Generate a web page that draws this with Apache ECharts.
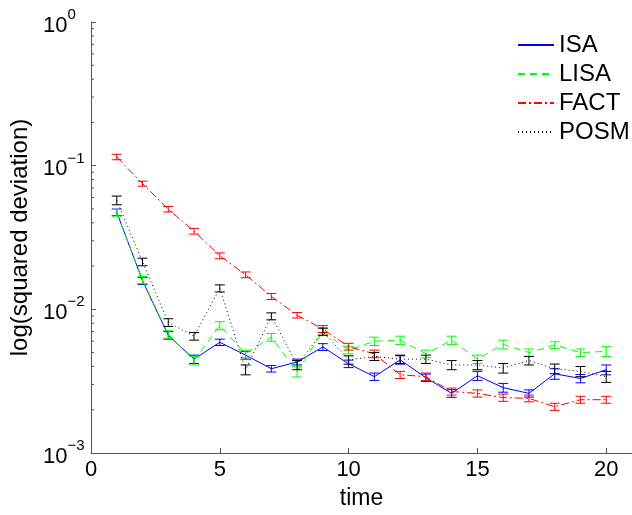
<!DOCTYPE html>
<html><head><meta charset="utf-8">
<script src="https://cdn.jsdelivr.net/npm/echarts@6/dist/echarts.min.js"></script>
<style>html,body{margin:0;padding:0;background:#fff}#c{width:632px;height:515px}</style>
</head><body><div id="c"></div>
<script>
var times = [1,2,3,4,5,6,7,8,9,10,11,12,13,14,15,16,17,18,19,20];
var isa  = [0.0474,0.0158,0.0066,0.0045,0.0059,0.0048,0.00386,0.0043,0.00547,0.00418,0.0034,0.00445,0.00334,0.0026,0.00345,0.00285,0.0026,0.00356,0.0033,0.0038];
var isaErr = [0.0025,0.0009,0.0004,0.0003,0.0003,0.0003,0.0002,0.0002,0.0003,0.00025,0.0002,0.0003,0.0002,0.00016,0.00025,0.0002,0.00015,0.0003,0.00022,0.0003];
var lisa = [0.047,0.016,0.0067,0.0044,0.0077,0.0049,0.0064,0.00368,0.007,0.0052,0.006,0.0061,0.0049,0.0061,0.0045,0.0057,0.005,0.00565,0.005,0.0051];
var lisaErr = [0.0025,0.0009,0.0004,0.0003,0.0005,0.0003,0.0004,0.0003,0.0004,0.0003,0.0004,0.0004,0.0003,0.0004,0.0003,0.0004,0.0003,0.0003,0.0003,0.0004];
var fact = [0.115,0.075,0.0498,0.035,0.0236,0.0174,0.0123,0.0091,0.0073,0.0055,0.0049,0.0035,0.0034,0.00268,0.0026,0.00243,0.0024,0.0021,0.00235,0.00235];
var factErr = [0.005,0.003,0.0022,0.0016,0.0011,0.0008,0.0006,0.0004,0.0004,0.0003,0.0003,0.0002,0.0002,0.00015,0.00015,0.00014,0.00013,0.00012,0.00013,0.00013];
var posm = [0.0574,0.0214,0.0081,0.0065,0.014,0.0038,0.00895,0.0041,0.007,0.00445,0.0047,0.0045,0.0045,0.0041,0.0041,0.0039,0.0044,0.00386,0.0037,0.0034];
var posmErr = [0.004,0.0013,0.0005,0.0004,0.0008,0.0003,0.0005,0.0003,0.0004,0.0003,0.0003,0.0003,0.0003,0.0003,0.0003,0.0003,0.0003,0.0003,0.0003,0.0003];
var seriesNames = ['ISA','LISA','FACT','POSM'];
var xTicks = [0,5,10,15,20];
var minorTickValues = [0.002,0.003,0.004,0.005,0.006,0.007,0.008,0.009,0.02,0.03,0.04,0.05,0.06,0.07,0.08,0.09,0.2,0.3,0.4,0.5,0.6,0.7,0.8,0.9];

var FONT = 'Liberation Sans, Arial, sans-serif';
var colors = ['#0000ff','#00ff00','#ff0000','#000000'];
var styles = ['solid',[7,5],[8,3,2,3],[1,3]];
var vals = [isa,lisa,fact,posm];
var errs = [isaErr,lisaErr,factErr,posmErr];

function pairs(a){ return times.map(function(t,i){return [t,a[i]];}); }
function errData(a,e){ return times.map(function(t,i){return [t,a[i]-e[i],a[i]+e[i]];}); }

var series = [];
vals.forEach(function(v,k){
  series.push({name:seriesNames[k],type:'line',data:pairs(v),symbol:'none',
    lineStyle:{color:colors[k],width:1,type:styles[k]},itemStyle:{color:colors[k]},z:2+k,animation:false});
});
vals.forEach(function(v,k){
  series.push({type:'custom',data:errData(v,errs[k]),z:2+k,animation:false,silent:true,
    renderItem:function(params,api){
      var lo=api.coord([api.value(0),api.value(1)]);
      var hi=api.coord([api.value(0),api.value(2)]);
      var w=5, c=colors[k];
      var st={stroke:c,lineWidth:1};
      return {type:'group',children:[
        {type:'line',shape:{x1:lo[0],y1:lo[1],x2:hi[0],y2:hi[1]},style:st},
        {type:'line',shape:{x1:lo[0]-w,y1:lo[1],x2:lo[0]+w,y2:lo[1]},style:st},
        {type:'line',shape:{x1:hi[0]-w,y1:hi[1],x2:hi[0]+w,y2:hi[1]},style:st}
      ]};
    }});
});
series.push({type:'custom',data:minorTickValues.map(function(v){return [0,v];}),silent:true,animation:false,z:1,
  renderItem:function(params,api){
    var p=api.coord([0,api.value(1)]);
    return {type:'line',shape:{x1:p[0],y1:p[1],x2:p[0]+3,y2:p[1]},style:{stroke:'#555',lineWidth:1}};
  }});

var sup = {'0':'0','-1':'\u22121','-2':'\u22122','-3':'\u22123'};
var option = {
  backgroundColor:'#fff',
  animation:false,
  grid:{left:91,top:22,height:435,width:549,containLabel:false},
  legend:{data:seriesNames,orient:'vertical',left:517,top:33,padding:0,itemWidth:36,itemHeight:14,itemGap:5,
    itemStyle:{opacity:0,color:'rgba(0,0,0,0)',borderWidth:0},
    textStyle:{fontFamily:FONT,fontSize:24,lineHeight:24,color:'#000',padding:[0,0,0,0]}},
  xAxis:{type:'value',min:0,max:21,interval:5,
    name:'time',nameLocation:'middle',nameGap:34,nameTextStyle:{fontFamily:FONT,fontSize:23,color:'#000'},
    axisLine:{lineStyle:{color:'#555',width:1}},
    axisTick:{inside:true,length:5,lineStyle:{color:'#555'}},
    axisLabel:{fontFamily:FONT,fontSize:22,color:'#000',margin:6,showMaxLabel:false,
      formatter:function(v){return xTicks.indexOf(v)>=0?String(v):'';}},
    splitLine:{show:false}},
  yAxis:{type:'log',logBase:10,min:0.001,max:1,
    name:'log(squared deviation)',nameLocation:'middle',nameGap:57,nameRotate:90,
    nameTextStyle:{fontFamily:FONT,fontSize:24,color:'#000'},
    axisLine:{show:true,lineStyle:{color:'#555',width:1}},
    axisTick:{inside:true,length:5,lineStyle:{color:'#555'}},
    axisLabel:{margin:48,align:'left',fontFamily:FONT,
      formatter:function(v){var e=Math.round(Math.log10(v));return '{b|10}{s|'+sup[String(e)]+'}';},
      rich:{b:{fontSize:22,fontFamily:FONT,color:'#000',verticalAlign:'bottom'},
            s:{fontSize:15,fontFamily:FONT,color:'#000',verticalAlign:'top',padding:[0,0,14,0]}}},
    splitLine:{show:false}},
  series:series
};
echarts.init(document.getElementById('c'),null,{renderer:'canvas'}).setOption(option);
</script></body></html>
